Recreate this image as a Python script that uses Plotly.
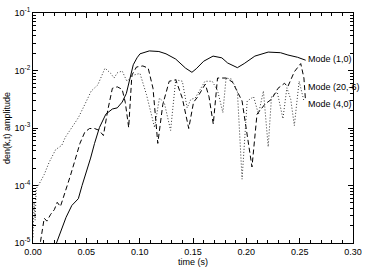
import math
import plotly.graph_objects as go

# time (s) and amplitudes
t_10 = [0.022, 0.027, 0.031, 0.0364, 0.0425, 0.046, 0.050, 0.054, 0.0577, 0.0623,
        0.0683, 0.0744, 0.079, 0.0836, 0.0875, 0.091, 0.094, 0.0975, 0.1003, 0.109,
        0.118, 0.1247, 0.1338, 0.143, 0.149, 0.153, 0.160, 0.1688, 0.177, 0.1825,
        0.1916, 0.198, 0.208, 0.2205, 0.232, 0.239, 0.248, 0.2556]
a_10 = [1.0e-5, 1.8e-5, 2.8e-5, 4.5e-5, 5.9e-5, 1.0e-4, 1.66e-4, 3.0e-4, 5.4e-4, 1.02e-3,
        1.74e-3, 2.14e-3, 2.24e-3, 2.82e-3, 3.98e-3, 7.6e-3, 1.26e-2, 1.66e-2, 1.95e-2, 2.19e-2,
        2.14e-2, 1.95e-2, 1.58e-2, 1.10e-2, 9.3e-3, 1.07e-2, 1.45e-2, 1.78e-2, 1.66e-2, 1.35e-2,
        1.12e-2, 1.32e-2, 1.78e-2, 2.09e-2, 2.04e-2, 1.86e-2, 1.70e-2, 1.51e-2]

t_206 = [0.007, 0.0085, 0.0105, 0.013, 0.0166, 0.020, 0.0227, 0.0257, 0.0303, 0.0349,
         0.0395, 0.044, 0.0486, 0.053, 0.0577, 0.062, 0.066, 0.070, 0.0744, 0.079,
         0.0836, 0.0865, 0.0897, 0.0927, 0.097, 0.103, 0.108, 0.1125, 0.117, 0.1217,
         0.1277, 0.1338, 0.14, 0.146, 0.1505, 0.1545, 0.1615, 0.165, 0.169, 0.173,
         0.181, 0.187, 0.196, 0.2053, 0.21, 0.2175, 0.2236, 0.2297, 0.2358, 0.2388,
         0.245, 0.251, 0.254, 0.2555]
a_206 = [1.05e-5, 1.66e-5, 2.7e-5, 2.4e-5, 3.16e-5, 3.8e-5, 5.1e-5, 4.3e-5, 7.6e-5, 1.45e-4,
         2.8e-4, 5.4e-4, 8.5e-4, 9.8e-4, 9.8e-4, 9.1e-4, 7.4e-4, 2.0e-3, 4.9e-3, 5.2e-3,
         4.7e-3, 2.8e-3, 1.02e-3, 8.3e-3, 1.15e-2, 1.2e-2, 1.1e-2, 4.9e-3, 5.4e-4, 2.57e-3,
         6.5e-3, 6.9e-3, 3.3e-3, 9.8e-4, 2.8e-3, 3.5e-3, 5.8e-3, 3.5e-3, 1.17e-3, 7.4e-3,
         7.4e-3, 6.3e-3, 2.95e-3, 2.1e-4, 1.74e-3, 2.6e-3, 3.16e-3, 4.9e-3, 6.0e-3, 5.2e-3,
         9.5e-3, 1.32e-2, 7.4e-3, 2.95e-3]

t_40 = [0.0, 0.001, 0.002, 0.003, 0.005, 0.0075, 0.0105, 0.015, 0.0212, 0.027,
        0.0303, 0.0364, 0.0425, 0.0486, 0.0546, 0.0607, 0.0645, 0.0675, 0.0729, 0.076,
        0.079, 0.0836, 0.088, 0.094, 0.1003, 0.1064, 0.114, 0.1185, 0.123, 0.129,
        0.1338, 0.14, 0.1445, 0.148, 0.152, 0.1612, 0.168, 0.173, 0.178, 0.181,
        0.186, 0.1916, 0.196, 0.2008, 0.2068, 0.2114, 0.216, 0.2205, 0.2236, 0.229,
        0.2343, 0.238, 0.2416, 0.245, 0.2495, 0.254]
a_40 = [1.26e-5, 5.0e-5, 2.5e-5, 8.9e-5, 1.0e-4, 1.2e-4, 1.55e-4, 2.5e-4, 4.2e-4, 5.0e-4,
        6.9e-4, 1.02e-3, 1.51e-3, 2.57e-3, 4.4e-3, 5.6e-3, 8.3e-3, 1.1e-2, 8.9e-3, 7.4e-3,
        9.1e-3, 9.8e-3, 6.5e-3, 8.3e-3, 8.9e-3, 3.8e-3, 1.02e-3, 3.3e-3, 2.8e-3, 9.1e-4,
        6.9e-3, 6.5e-3, 2.24e-3, 3.16e-3, 3.3e-3, 6.5e-3, 6.5e-3, 4.5e-3, 1.86e-3, 7.4e-3,
        7.1e-3, 4.4e-3, 1.29e-4, 2.95e-3, 3.5e-3, 1.74e-3, 4.4e-3, 4.7e-4, 3.5e-3, 4.2e-3,
        1.45e-3, 5.0e-3, 3.16e-3, 1.1e-3, 6.5e-3, 2.95e-3]

labels = ["Mode (1,0)", "Mode (20,-6)", "Mode (4,0)"]
label_y = [1.6e-2, 5.1e-3, 2.6e-3]

x_ticks = [0.0, 0.05, 0.10, 0.15, 0.20, 0.25, 0.30]
x_ticktext = ["0.00", "0.05", "0.10", "0.15", "0.20", "0.25", "0.30"]
y_ticks = [1e-5, 1e-4, 1e-3, 1e-2, 1e-1]
y_ticktext = ["10<sup>-5</sup>", "10<sup>-4</sup>", "10<sup>-3</sup>", "10<sup>-2</sup>", "10<sup>-1</sup>"]

FONT = "Liberation Sans, Arial, sans-serif"

fig = go.Figure()
fig.add_trace(go.Scatter(x=t_10, y=a_10, mode="lines",
                         line=dict(color="black", width=1), showlegend=False))
fig.add_trace(go.Scatter(x=t_206, y=a_206, mode="lines",
                         line=dict(color="black", width=1, dash="5px,3px"), showlegend=False))
fig.add_trace(go.Scatter(x=t_40, y=a_40, mode="lines",
                         line=dict(color="#333333", width=1, dash="1px,2px"), showlegend=False))

for txt, yv in zip(labels, label_y):
    fig.add_annotation(x=0.2558, y=math.log10(yv), yref="y", xref="x", text=txt,
                       showarrow=False, xanchor="left", yanchor="middle", xshift=0,
                       font=dict(family=FONT, size=9, color="black"))

minor_y = []
for d in [1e-5, 1e-4, 1e-3, 1e-2]:
    for m in range(2, 10):
        minor_y.append(m * d)

fig.update_layout(
    width=368, height=271,
    margin=dict(l=33, r=6, t=10, b=26),
    paper_bgcolor="white", plot_bgcolor="white",
    font=dict(family=FONT, size=9, color="black"),
    xaxis=dict(range=[0, 0.30], tickvals=x_ticks, ticktext=x_ticktext,
               ticks="inside", ticklen=5, tickwidth=1, tickcolor="black",
               showline=True, linecolor="black", linewidth=1, mirror="ticks",
               showgrid=False, zeroline=False, ticklabeloverflow="allow",
               minor=dict(ticks="inside", dtick=0.01, tick0=0, ticklen=3,
                          tickcolor="black", showgrid=False),
               title=dict(text="time (s)", font=dict(size=9), standoff=2),
               tickfont=dict(size=9)),
    yaxis=dict(type="log", range=[-5, -1], tickvals=y_ticks, ticktext=y_ticktext,
               ticks="inside", ticklen=5, tickwidth=1, tickcolor="black",
               showline=True, linecolor="black", linewidth=1, mirror="ticks",
               showgrid=False, zeroline=False,
               minor=dict(ticks="inside", tickvals=minor_y, ticklen=3,
                          tickcolor="black", showgrid=False),
               title=dict(text="den(k,t) amplitude", font=dict(size=9), standoff=2),
               tickfont=dict(size=9)),
)

fig.write_html("out.html")
